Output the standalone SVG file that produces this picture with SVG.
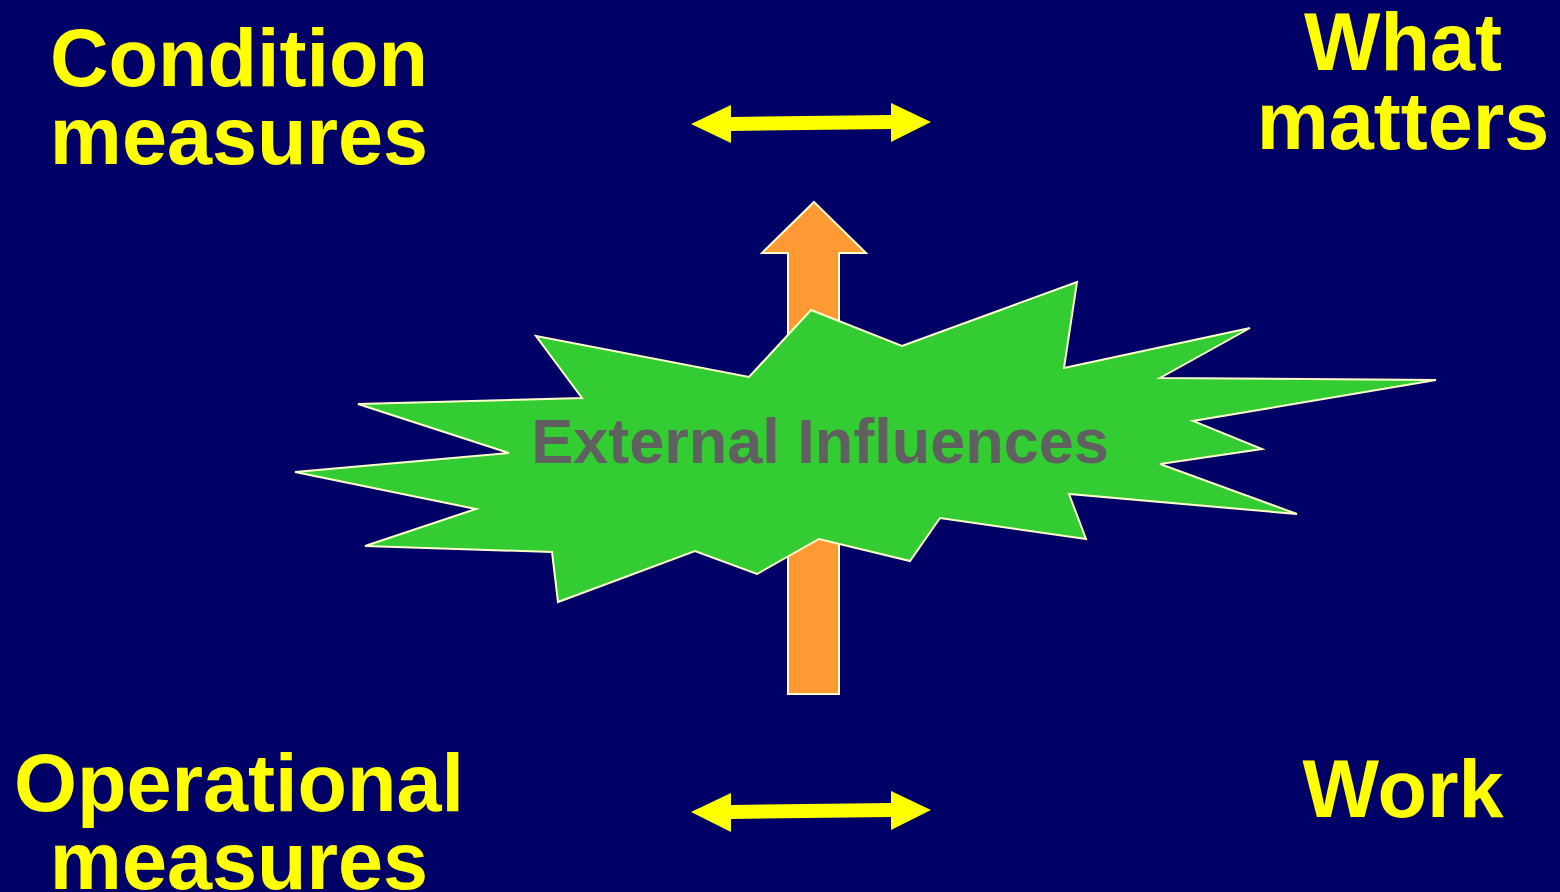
<svg xmlns="http://www.w3.org/2000/svg" width="1560" height="892" viewBox="0 0 1560 892">
<style>
.lbl{font-family:"Liberation Sans",Arial,sans-serif;font-weight:bold;font-size:81px;fill:#FFFF00;text-anchor:middle}
.ext{font-family:"Liberation Sans",Arial,sans-serif;font-weight:bold;font-size:63px;fill:#606060;text-anchor:middle}
.yarrow{fill:#FFFF00}
.outline{stroke:#FFFFCC;stroke-width:2;stroke-linejoin:miter}
</style>
<rect x="0" y="0" width="1560" height="892" fill="#000066"/>
<g id="connectors">
<polygon class="yarrow" points="691,124 731,105 731,117 891,115 891,103 931,122 891,142 891,129 731,131 731,143"/>
<polygon class="yarrow" points="691,812 731,793 731,805 891,803 891,791 931,810 891,830 891,817 731,819 731,832"/>
<polygon class="outline" fill="#FF9933" points="814,202 866,253 839,253 839,694 788,694 788,253 762,253"/>
</g>
<g id="external-influences">
<polygon class="outline" fill="#33CC33" points="536,336 749,377 811,310 902,346 1077,282 1064,368 1250,328 1160,378 1436,380 1193,421 1262,449 1160,464 1297,514 1069,494 1086,539 940,518 910,561 819,539 757,574 695,551 558,602 552,552 365,546 476,509 295,472 509,453 358,404 582,398"/>
<text class="ext" x="820" y="463">External Influences</text>
</g>
<g id="condition-measures">
<text class="lbl" x="239" y="86">Condition</text>
<text class="lbl" x="239" y="164">measures</text>
</g>
<g id="what-matters">
<text class="lbl" x="1403" y="70">What</text>
<text class="lbl" x="1403" y="149">matters</text>
</g>
<g id="operational-measures">
<text class="lbl" x="239" y="811">Operational</text>
<text class="lbl" x="239" y="889">measures</text>
</g>
<g id="work">
<text class="lbl" x="1403" y="817">Work</text>
</g>
</svg>
